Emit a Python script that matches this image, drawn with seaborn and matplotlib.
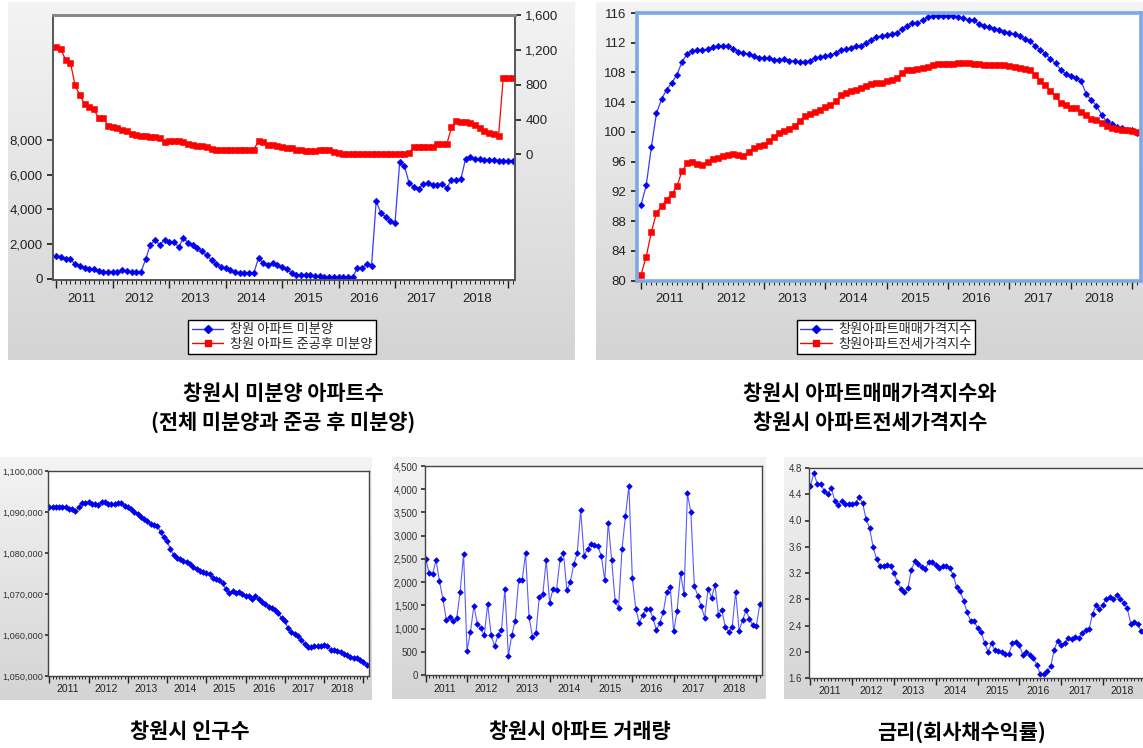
import numpy as np
import matplotlib
matplotlib.use("Agg")
import matplotlib.pyplot as plt
import seaborn as sns
from matplotlib.lines import Line2D
from matplotlib.colors import LinearSegmentedColormap
from matplotlib.ticker import FixedLocator, FuncFormatter

# ---------------- data (monthly, Jan 2011 - Feb 2019) ----------------
years = [2011, 2012, 2013, 2014, 2015, 2016, 2017, 2018]
months = np.arange(98)

unsold_total = [
    1288, 1250, 1154, 1154, 827, 731, 635, 577, 577, 442,
    404, 385, 404, 385, 519, 442, 385, 385, 385, 1135,
    1961, 2230, 1961, 2250, 2134, 2134, 1827, 2346, 2077, 1923,
    1769, 1577, 1346, 1077, 827, 673, 615, 481, 385, 346,
    346, 346, 346, 1211, 885, 769, 885, 808, 673, 538,
    346, 231, 212, 212, 192, 154, 154, 115, 96, 96,
    96, 96, 96, 96, 635, 635, 827, 731, 4480, 3769,
    3577, 3327, 3231, 6731, 6500, 5500, 5308, 5192, 5442, 5519,
    5404, 5404, 5481, 5231, 5692, 5673, 5731, 6923, 6990, 6900,
    6880, 6860, 6840, 6830, 6810, 6810, 6800, 6800]

unsold_completed = [
    1233, 1210, 1084, 1057, 793, 682, 582, 548, 517, 417,
    417, 329, 318, 299, 280, 268, 234, 222, 214, 211,
    203, 203, 184, 146, 157, 157, 157, 146, 126, 107,
    100, 96, 84, 65, 57, 57, 57, 57, 57, 57,
    57, 57, 57, 157, 146, 111, 107, 100, 88, 80,
    69, 57, 46, 42, 42, 42, 54, 54, 50, 31,
    19, 11, 4, 4, 4, 4, 4, 4, 4, 4,
    4, 4, 4, 4, 4, 20, 88, 88, 88, 88,
    88, 126, 126, 119, 310, 387, 375, 368, 356, 337,
    300, 268, 249, 230, 210, 880, 880, 880]

sale_index = [
    90.2, 92.8, 97.9, 102.5, 104.4, 105.7, 106.6, 107.7, 109.4, 110.5,
    110.9, 111.0, 111.0, 111.1, 111.4, 111.5, 111.6, 111.5, 111.2, 110.8,
    110.6, 110.5, 110.2, 110.0, 110.0, 109.9, 109.7, 109.7, 109.8, 109.6,
    109.5, 109.4, 109.4, 109.6, 109.9, 110.1, 110.2, 110.3, 110.6, 111.0,
    111.1, 111.3, 111.5, 111.6, 111.9, 112.4, 112.8, 112.9, 113.0, 113.2,
    113.3, 113.9, 114.2, 114.6, 114.6, 115.0, 115.4, 115.55, 115.6, 115.6,
    115.6, 115.6, 115.4, 115.3, 115.1, 115.0, 114.5, 114.2, 114.1, 113.9,
    113.75, 113.5, 113.3, 113.2, 112.85, 112.5, 112.2, 111.6, 111.05, 110.5,
    109.8, 109.25, 108.35, 107.8, 107.5, 107.3, 106.8, 105.1, 104.3, 103.5,
    102.3, 101.4, 101.0, 100.7, 100.5, 100.3, 100.2, 99.8]

jeonse_index = [
    80.8, 83.2, 86.5, 89.1, 90.0, 90.9, 91.6, 92.7, 94.7, 95.75,
    95.9, 95.65, 95.5, 95.9, 96.3, 96.55, 96.7, 96.9, 97.0, 96.9,
    96.8, 97.3, 97.85, 98.1, 98.3, 98.8, 99.3, 99.8, 100.15, 100.4,
    100.8, 101.5, 102.1, 102.4, 102.7, 103.0, 103.3, 103.6, 104.1, 104.9,
    105.3, 105.5, 105.65, 105.9, 106.2, 106.45, 106.6, 106.6, 106.9, 107.0,
    107.3, 107.9, 108.35, 108.35, 108.4, 108.65, 108.8, 109.0, 109.15, 109.15,
    109.15, 109.15, 109.25, 109.3, 109.25, 109.15, 109.15, 109.0, 108.95, 108.95,
    108.95, 108.95, 108.9, 108.8, 108.65, 108.5, 108.35, 107.6, 106.9, 106.3,
    105.5, 104.85, 103.85, 103.6, 103.2, 103.2, 102.65, 102.3, 101.8, 101.6,
    101.15, 100.8, 100.5, 100.4, 100.25, 100.2, 100.1, 100.0]

population = [
    1091100, 1091100, 1091100, 1091100, 1091100, 1091100, 1090800, 1090700, 1090200, 1091100,
    1092100, 1092100, 1092400, 1091900, 1091900, 1091700, 1092500, 1092400, 1091900, 1091900,
    1091900, 1092300, 1092300, 1091500, 1091100, 1090800, 1089900, 1089400, 1088900, 1088200,
    1087900, 1087100, 1086800, 1086700, 1085100, 1083800, 1083000, 1080900, 1079600, 1078700,
    1078500, 1078100, 1077700, 1077200, 1076700, 1076000, 1075700, 1075400, 1075200, 1074900,
    1074000, 1073600, 1073300, 1072600, 1071100, 1070300, 1070700, 1070300, 1070400, 1070000,
    1069600, 1069400, 1068900, 1069400, 1068700, 1068000, 1067500, 1066900, 1066600, 1066100,
    1065300, 1064100, 1063300, 1061600, 1060700, 1060200, 1059800, 1058800, 1057800, 1057000,
    1057000, 1057300, 1057400, 1057400, 1057600, 1057200, 1056300, 1056300, 1056200, 1055900,
    1055300, 1055100, 1054700, 1054500, 1054300, 1053900, 1053400, 1052700]

transactions = [
    2505, 2190, 2167, 2476, 2024, 1636, 1184, 1242, 1155, 1220,
    1794, 2605, 524, 933, 1493, 1098, 1005, 854, 1529, 861,
    624, 854, 969, 1859, 409, 861, 1170, 2038, 2038, 2620,
    1256, 825, 897, 1687, 1737, 2469, 1557, 1859, 1837, 2490,
    2620, 1823, 2002, 2390, 2620, 3545, 2562, 2720, 2830, 2790,
    2778, 2555, 2035, 3278, 2476, 1590, 1435, 2706, 3424, 4070,
    2088, 1421, 1130, 1285, 1421, 1421, 1220, 969, 1130, 1360,
    1794, 1902, 937, 1378, 2196, 1744, 3908, 3500, 1916, 1705,
    1475, 1238, 1855, 1668, 1930, 1302, 1392, 1037, 930, 1040,
    1790, 955, 1177, 1392, 1210, 1066, 1055, 1518]

bond_yield = [
    4.52, 4.73, 4.55, 4.55, 4.45, 4.40, 4.50, 4.30, 4.24, 4.30,
    4.25, 4.25, 4.25, 4.26, 4.36, 4.26, 4.02, 3.88, 3.60, 3.41,
    3.31, 3.30, 3.32, 3.30, 3.20, 3.06, 2.96, 2.91, 2.97, 3.25,
    3.38, 3.33, 3.29, 3.26, 3.37, 3.37, 3.32, 3.28, 3.31, 3.31,
    3.27, 3.17, 2.98, 2.92, 2.78, 2.60, 2.47, 2.47, 2.36, 2.30,
    2.14, 2.00, 2.13, 2.02, 2.01, 1.99, 1.96, 1.97, 2.13, 2.15,
    2.10, 1.95, 1.99, 1.95, 1.91, 1.80, 1.66, 1.66, 1.71, 1.78,
    2.03, 2.17, 2.11, 2.13, 2.21, 2.20, 2.22, 2.21, 2.28, 2.33,
    2.34, 2.58, 2.71, 2.65, 2.72, 2.81, 2.83, 2.80, 2.86, 2.81,
    2.75, 2.66, 2.42, 2.46, 2.42, 2.31, 2.28, 2.25]

legend_top_left = ["창원 아파트 미분양", "창원 아파트 준공후 미분양"]
legend_top_right = ["창원아파트매매가격지수", "창원아파트전세가격지수"]
captions = {
    "unsold": "창원시 미분양 아파트수\n(전체 미분양과 준공 후 미분양)",
    "price": "창원시 아파트매매가격지수와\n창원시 아파트전세가격지수",
    "pop": "창원시 인구수",
    "trade": "창원시 아파트 거래량",
    "rate": "금리(회사채수익률)",
}

# ---------------- style ----------------
sns.set_theme(style="white", rc={"xtick.bottom": True, "ytick.left": True})
plt.rcParams["font.family"] = ["Liberation Sans", "Noto Sans CJK KR", "DejaVu Sans"]
KR = "Noto Sans CJK KR"

W, H = 1143, 748
fig = plt.figure(figsize=(W / 100, H / 100), dpi=100)
fig.patch.set_facecolor("white")

BLUE_LINE = "#3a3aff"
BLUE = "#0000f0"
RED = "#ff0000"


def box(l, t, r, b):
    return [l / W, 1 - b / H, (r - l) / W, (b - t) / H]


gray_cmap = LinearSegmentedColormap.from_list("g", ["#f4f4f4", "#d4d4d4"])


def background(l, t, r, b):
    bg = fig.add_axes(box(l, t, r, b))
    bg.imshow(np.linspace(0, 1, 256).reshape(-1, 1), aspect="auto", cmap=gray_cmap,
              extent=(0, 1, 0, 1), origin="upper", vmin=0, vmax=1)
    bg.axis("off")
    return bg


def time_axis(ax, xlim, fs, pad_px, major_len, minor_len):
    ax.set_xlim(*xlim)
    ax.xaxis.set_major_locator(FixedLocator(np.arange(0, 98, 12)))
    ax.xaxis.set_minor_locator(FixedLocator(np.arange(0, 98)))
    ax.tick_params(axis="x", which="major", length=major_len, width=1.0, direction="out",
                   labelbottom=False, color="#222222")
    ax.tick_params(axis="x", which="minor", length=minor_len, width=0.7, direction="out",
                   color="#222222", bottom=True)
    for k, yr in enumerate(years):
        ax.annotate(str(yr), xy=(12 * k + 5.5, 0), xycoords=("data", "axes fraction"),
                    xytext=(0, -pad_px * 0.72), textcoords="offset points",
                    ha="center", va="center", fontsize=fs, color="#222222")


def spines(ax, color="#555555", lw=1.0):
    for s in ax.spines.values():
        s.set_color(color)
        s.set_linewidth(lw)
        s.set_visible(True)


def series(ax, y, color, lcolor, marker, ms, lw=0.9):
    sns.lineplot(x=months, y=y, ax=ax, color=lcolor, linewidth=lw, marker=marker,
                 markersize=ms, markerfacecolor=color, markeredgecolor=color,
                 markeredgewidth=0.4, legend=False)
    ax.set_xlabel("")
    ax.set_ylabel("")


comma = FuncFormatter(lambda v, p: f"{int(round(v)):,}")

# ---------------- panel 1: unsold apartments ----------------
background(8, 2, 575, 360)
ax1 = fig.add_axes(box(53, 15, 515, 279.5))
ax1.set_facecolor("white")
series(ax1, unsold_total, BLUE, BLUE_LINE, "D", 3.4)
ax1.set_ylim(-40, 15190)
ax1.set_yticks([0, 2000, 4000, 6000, 8000])
ax1.yaxis.set_major_formatter(comma)
ax1.tick_params(axis="y", length=4, direction="out", labelsize=9.5, colors="#222222")
time_axis(ax1, (-0.7, 97.5), 9.5, 19, 6, 3)
ax1r = ax1.twinx()
series(ax1r, unsold_completed, RED, RED, "s", 4.6)
ax1r.set_ylim(-1437, 1603)
ax1r.set_yticks([0, 400, 800, 1200, 1600])
ax1r.yaxis.set_major_formatter(comma)
ax1r.tick_params(axis="y", length=4, direction="out", labelsize=9.5, colors="#222222",
                 right=True, left=False)
ax1r.set_xlim(-0.7, 97.5)
spines(ax1, "#555555", 1.2)
spines(ax1r, "#555555", 1.2)
ax1.spines["top"].set_color("#888888")
ax1.spines["top"].set_linewidth(2)
ax1r.spines["top"].set_color("#888888")
ax1r.spines["top"].set_linewidth(2)

h1 = [Line2D([], [], color=BLUE_LINE, marker="D", ms=4, mfc=BLUE, mec=BLUE, lw=1),
      Line2D([], [], color=RED, marker="s", ms=5, lw=1)]
leg1 = fig.legend(h1, legend_top_left, loc="center", bbox_to_anchor=(282 / W, 1 - 337 / H),
                  prop={"family": KR, "size": 9.5}, frameon=True, fancybox=False,
                  edgecolor="black", framealpha=1, facecolor="white", borderpad=0.25,
                  labelspacing=0.1, handlelength=2.4, handletextpad=0.5, borderaxespad=0)
leg1.get_frame().set_linewidth(1.0)

# ---------------- panel 2: price indices ----------------
background(596, 2, 1143, 360)
ax2 = fig.add_axes(box(637, 13, 1141, 280.5))
ax2.set_facecolor("white")
series(ax2, sale_index, BLUE, BLUE_LINE, "D", 3.3)
series(ax2, jeonse_index, RED, RED, "s", 4.6)
ax2.set_ylim(80, 116)
ax2.set_yticks(np.arange(80, 117, 4))
ax2.tick_params(axis="y", length=4, direction="out", labelsize=9.5, colors="#222222")
time_axis(ax2, (-0.8, 97.7), 9.5, 18, 6, 3)
spines(ax2, "#7ea7e8", 2.6)

h2 = [Line2D([], [], color=BLUE_LINE, marker="D", ms=4, mfc=BLUE, mec=BLUE, lw=1),
      Line2D([], [], color=RED, marker="s", ms=5, lw=1)]
leg2 = fig.legend(h2, legend_top_right, loc="center", bbox_to_anchor=(886 / W, 1 - 337 / H),
                  prop={"family": KR, "size": 9.5}, frameon=True, fancybox=False,
                  edgecolor="black", framealpha=1, facecolor="white", borderpad=0.25,
                  labelspacing=0.1, handlelength=2.4, handletextpad=0.5, borderaxespad=0)
leg2.get_frame().set_linewidth(1.0)

# ---------------- panel 3: population ----------------
background(0, 457, 372, 700)
ax3 = fig.add_axes(box(48, 471, 369, 676))
ax3.set_facecolor("white")
series(ax3, population, BLUE, BLUE_LINE, "D", 3.0, lw=0.8)
ax3.set_ylim(1050000, 1100000)
ax3.set_yticks(np.arange(1050000, 1100001, 10000))
ax3.yaxis.set_major_formatter(comma)
ax3.tick_params(axis="y", length=2.5, pad=1.2, direction="out", labelsize=6.6, colors="#333333")
time_axis(ax3, (-0.4, 97.7), 7.5, 13.5, 5, 2.5)
spines(ax3, "#444444", 1.0)

# ---------------- panel 4: transactions ----------------
background(392, 457, 766, 699)
ax4 = fig.add_axes(box(425, 466, 762, 675))
ax4.set_facecolor("white")
series(ax4, transactions, BLUE, "#5a5aff", "D", 2.9, lw=0.8)
ax4.set_ylim(0, 4500)
ax4.set_yticks(np.arange(0, 4501, 500))
ax4.yaxis.set_major_formatter(comma)
ax4.tick_params(axis="y", length=3, pad=2, direction="out", labelsize=7, colors="#333333")
time_axis(ax4, (-0.2, 97.65), 7.5, 14, 5, 2.5)
spines(ax4, "#444444", 1.0)

# ---------------- panel 5: corporate bond yield ----------------
background(784, 457, 1143, 699)
ax5 = fig.add_axes(box(809, 468, 1150, 678))
ax5.set_facecolor("white")
series(ax5, bond_yield, BLUE, "#5a5aff", "D", 2.9, lw=0.8)
ax5.set_ylim(1.6, 4.8)
ax5.set_yticks(np.arange(1.6, 4.81, 0.4))
ax5.yaxis.set_major_formatter(FuncFormatter(lambda v, p: f"{v:.1f}"))
ax5.tick_params(axis="y", length=3, pad=2, direction="out", labelsize=7, colors="#333333")
time_axis(ax5, (-0.4, 97.5), 7.5, 13.5, 5, 2.5)
spines(ax5, "#444444", 1.0)

# ---------------- captions ----------------
cap_kw = dict(ha="center", va="center", fontsize=15, fontweight="bold", family=KR,
              color="black", linespacing=1.45)
fig.text(283 / W, 1 - 408 / H, captions["unsold"], **cap_kw)
fig.text(870 / W, 1 - 408 / H, captions["price"], **cap_kw)
fig.text(190 / W, 1 - 732 / H, captions["pop"], **cap_kw)
fig.text(580 / W, 1 - 732 / H, captions["trade"], **cap_kw)
fig.text(962 / W, 1 - 732 / H, captions["rate"], **cap_kw)

fig.savefig("out.png", dpi=100)
